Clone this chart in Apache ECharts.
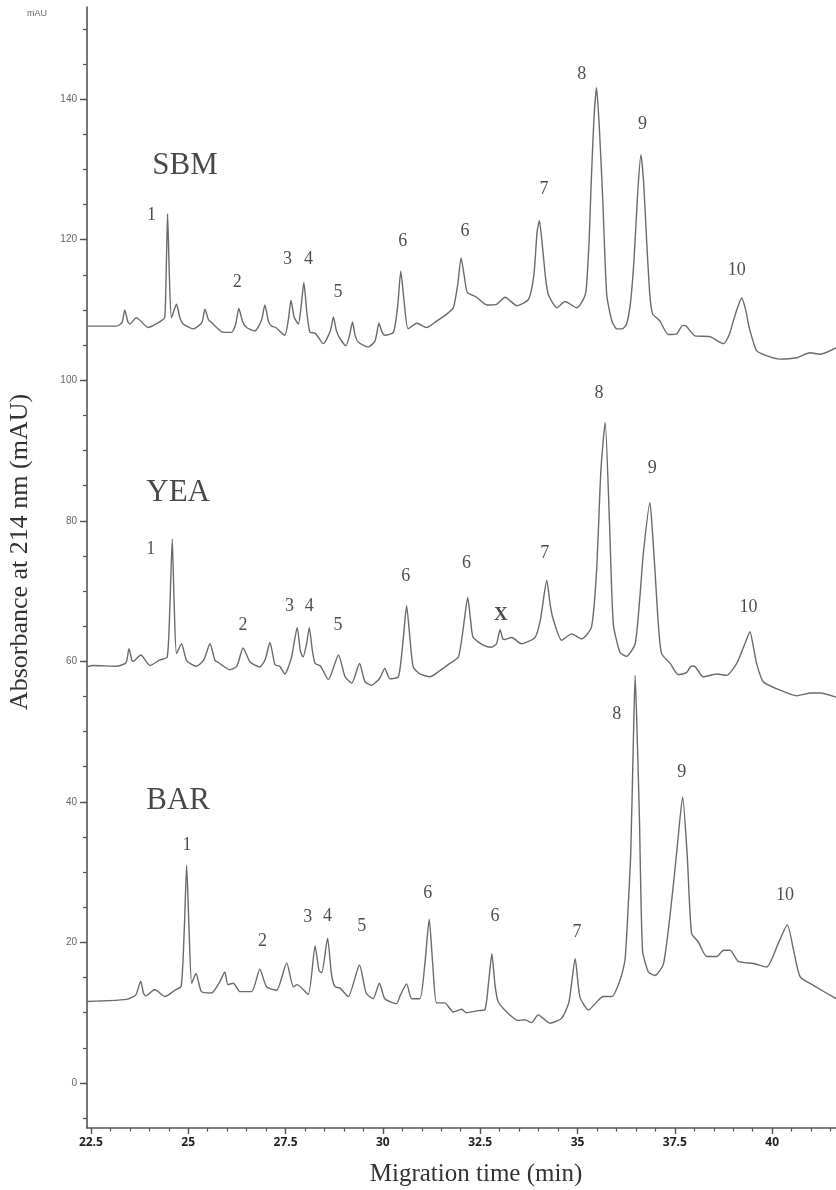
<!DOCTYPE html>
<html>
<head>
<meta charset="utf-8">
<script src="https://cdn.jsdelivr.net/npm/echarts@6/dist/echarts.min.js"></script>
<style>
html,body{margin:0;padding:0;background:#fff;}
#chart{width:836px;height:1190px;}
</style>
</head>
<body>
<div id="chart"></div>
<script>
// ---- data (migration time in min, absorbance in mAU) ----
const sbmTrace = [[22.39,107.7],[23.16,107.7],[23.30,108.2],[23.37,110.0],[23.45,108.3],[23.50,108.0],[23.67,108.9],[23.97,107.5],[24.32,108.5],[24.40,109.0],[24.44,117],[24.47,123.7],[24.51,116],[24.57,108.9],[24.70,110.8],[24.78,109],[24.87,108.0],[25.13,107.3],[25.35,108.2],[25.43,110.1],[25.52,108.6],[25.60,108.2],[25.90,106.8],[26.11,106.8],[26.22,108],[26.30,110.2],[26.40,108.3],[26.50,107.5],[26.71,107.0],[26.88,108.5],[26.97,110.7],[27.06,108.4],[27.14,107.7],[27.25,107.5],[27.48,106.4],[27.57,108.5],[27.64,111.4],[27.72,109],[27.83,108.0],[27.90,110.5],[27.97,113.9],[28.05,109.5],[28.13,106.8],[28.26,106.7],[28.47,105.2],[28.65,107],[28.73,109.0],[28.80,107.2],[28.88,106.1],[29.05,104.9],[29.15,106.5],[29.22,108.3],[29.29,106.3],[29.37,105.4],[29.62,104.7],[29.80,105.6],[29.90,108.1],[29.98,106.8],[30.05,106.4],[30.27,106.8],[30.38,110.5],[30.46,115.5],[30.55,111],[30.65,107.3],[30.87,108.1],[31.12,107.5],[31.38,108.4],[31.64,109.4],[31.81,110.3],[31.92,113.5],[32.01,117.4],[32.10,114.5],[32.17,112.5],[32.41,111.8],[32.67,110.7],[32.92,110.8],[33.14,111.8],[33.44,110.6],[33.74,111.5],[33.88,115],[33.96,121],[34.02,122.7],[34.10,119],[34.18,114.5],[34.25,112.2],[34.47,110.3],[34.68,111.2],[34.98,110.3],[35.15,111.5],[35.22,112.7],[35.30,120],[35.34,126.4],[35.42,137],[35.49,141.6],[35.56,136],[35.65,125.5],[35.75,112.2],[35.88,108.5],[36.01,107.3],[36.15,107.3],[36.26,108.0],[36.36,111],[36.45,117.0],[36.55,127],[36.63,132.1],[36.70,128],[36.78,119.4],[36.86,112],[36.93,109.4],[37.05,108.8],[37.12,108.4],[37.33,106.5],[37.55,106.6],[37.70,107.8],[37.79,107.7],[38.02,106.3],[38.40,106.2],[38.75,105.2],[38.90,106.5],[39.00,108.4],[39.12,110.5],[39.22,111.7],[39.32,110],[39.41,107.5],[39.60,104.2],[39.85,103.5],[40.20,103.0],[40.63,103.2],[40.97,103.9],[41.23,103.7],[41.64,104.6]];

const yeaTrace = [[22.39,59.2],[22.56,59.4],[23.16,59.3],[23.40,59.8],[23.48,61.8],[23.55,60.2],[23.59,60.0],[23.78,60.9],[24.02,59.4],[24.27,60.2],[24.46,60.6],[24.53,68],[24.59,77.4],[24.64,68],[24.70,61.1],[24.83,62.5],[24.96,60.1],[25.21,59.3],[25.40,60.2],[25.56,62.5],[25.69,60.1],[25.78,59.8],[26.07,58.8],[26.25,59.3],[26.41,61.9],[26.59,59.9],[26.84,59.2],[26.98,60.3],[27.10,62.7],[27.23,59.5],[27.35,59.3],[27.48,58.2],[27.65,60.5],[27.80,64.8],[27.88,61.5],[27.95,60.6],[28.04,62.5],[28.11,64.8],[28.19,61.5],[28.26,59.7],[28.40,59.3],[28.60,57.4],[28.86,60.9],[29.03,57.8],[29.20,56.9],[29.40,59.7],[29.54,57.1],[29.71,56.6],[29.92,57.6],[30.05,59.0],[30.18,57.5],[30.40,57.8],[30.52,63],[30.61,67.9],[30.70,63],[30.78,59.2],[30.95,58.2],[31.21,57.8],[31.47,58.7],[31.72,59.7],[31.94,60.6],[32.06,64.5],[32.18,69.1],[32.26,65.5],[32.32,63.4],[32.58,62.3],[32.79,62.0],[32.92,62.5],[33.01,64.5],[33.08,63.2],[33.14,63.1],[33.31,63.4],[33.56,62.5],[33.91,63.4],[34.05,66],[34.21,71.5],[34.30,68],[34.36,66.3],[34.59,63.0],[34.85,63.9],[35.11,63.2],[35.36,64.9],[35.49,72.9],[35.60,87.1],[35.71,94.0],[35.82,80.0],[35.92,65.3],[36.09,61.3],[36.26,60.7],[36.48,62.5],[36.60,69],[36.69,75.3],[36.86,82.6],[36.93,78],[36.99,72.9],[37.08,65],[37.16,61.1],[37.38,59.7],[37.59,58.1],[37.80,58.4],[37.92,59.3],[38.00,59.3],[38.23,57.8],[38.58,58.2],[38.83,58.0],[39.09,59.7],[39.30,62.5],[39.43,64.2],[39.52,62],[39.60,59.7],[39.77,57.1],[40.20,55.9],[40.63,55.1],[41.00,55.5],[41.23,55.5],[41.64,54.9]];

const barTrace = [[22.39,11.6],[22.86,11.7],[23.42,11.9],[23.65,12.5],[23.78,14.5],[23.85,12.8],[23.91,12.4],[24.14,13.3],[24.40,12.3],[24.66,13.2],[24.82,13.8],[24.90,22],[24.96,31.0],[25.02,22],[25.09,14.2],[25.20,15.6],[25.34,13.0],[25.60,12.8],[25.81,14.4],[25.94,15.8],[26.02,14.0],[26.16,14.2],[26.33,13.0],[26.63,13.0],[26.84,16.2],[27.01,13.7],[27.27,13.2],[27.53,17.1],[27.70,13.7],[27.80,14.0],[28.08,12.6],[28.26,19.5],[28.36,16],[28.43,15.7],[28.58,20.6],[28.68,15.5],[28.77,13.7],[28.90,13.5],[29.11,12.3],[29.40,16.8],[29.57,12.8],[29.75,12.0],[29.91,14.2],[30.05,12.0],[30.35,11.3],[30.45,12.5],[30.61,14.1],[30.74,12.0],[30.95,12.0],[31.08,17],[31.19,23.3],[31.28,17],[31.38,11.4],[31.59,11.4],[31.81,10.1],[32.02,10.5],[32.15,10.0],[32.45,10.3],[32.62,10.4],[32.72,14.5],[32.80,18.4],[32.88,14],[32.96,11.6],[33.22,9.9],[33.48,8.9],[33.65,9.0],[33.82,8.6],[33.99,9.7],[34.29,8.5],[34.59,9.2],[34.78,11.5],[34.94,17.7],[35.06,12.3],[35.28,10.4],[35.54,11.8],[35.66,12.3],[35.88,12.3],[36.09,14.6],[36.22,17.5],[36.31,26.0],[36.37,33.1],[36.44,50],[36.48,58.0],[36.53,50],[36.59,37.8],[36.67,18.9],[36.82,15.8],[36.99,15.3],[37.21,17.0],[37.42,26.0],[37.57,34.1],[37.70,40.7],[37.82,32.2],[37.93,21.3],[38.10,20.1],[38.32,18.0],[38.58,18.0],[38.75,18.9],[38.92,18.9],[39.13,17.3],[39.52,17.0],[39.86,16.5],[40.16,19.9],[40.39,22.5],[40.55,18.9],[40.72,15.1],[41.06,13.9],[41.64,12.0]];

const sampleNames = ['SBM', 'YEA', 'BAR'];
const sampleNamePos = [[24.92, 130.5], [24.74, 84.0], [24.74, 40.2]];

const peakLabels = [
  // SBM
  [24.06,123.4,'1'],[26.26,114.0,'2'],[27.55,117.2,'3'],[28.09,117.2,'4'],[28.85,112.5,'5'],
  [30.51,119.7,'6'],[32.11,121.2,'6'],[34.14,127.2,'7'],[35.11,143.5,'8'],[36.67,136.4,'9'],[39.09,115.6,'10'],
  // YEA
  [24.04,76.0,'1'],[26.41,65.2,'2'],[27.60,67.9,'3'],[28.11,67.9,'4'],[28.85,65.2,'5'],
  [30.59,72.1,'6'],[32.15,73.9,'6'],[34.16,75.4,'7'],[35.55,98.1,'8'],[36.92,87.4,'9'],[39.39,67.7,'10'],
  // BAR
  [24.97,33.8,'1'],[26.91,20.2,'2'],[28.07,23.6,'3'],[28.58,23.7,'4'],[29.46,22.3,'5'],
  [31.15,27.0,'6'],[32.88,23.7,'6'],[34.99,21.4,'7'],[36.01,52.5,'8'],[37.68,44.2,'9'],[40.33,26.7,'10']
];
const unknownLabel = [[33.03, 66.6, 'X']];

const xTickLabels = [22.5, 25, 27.5, 30, 32.5, 35, 37.5, 40];
const yTickLabels = [0, 20, 40, 60, 80, 100, 120, 140];

// ---- derived tick positions ----
const xMinor = []; for (let v = 22.5; v <= 41.6; v += 0.5) xMinor.push(+v.toFixed(1));
const yMinor = []; for (let v = -5; v <= 150; v += 5) yMinor.push(v);

const chart = echarts.init(document.getElementById('chart'), null, {renderer: 'canvas'});
const serif = '"Liberation Serif","DejaVu Serif",serif';
const lineColor = '#6a6a6a';

const traceSeries = [sbmTrace, yeaTrace, barTrace].map((d, i) => ({
  type: 'line', name: sampleNames[i], data: d, showSymbol: false, symbol: 'none',
  smooth: 0.2, lineStyle: {color: lineColor, width: 1.4}, silent: true, z: 3
}));

const textSeries = {
  type: 'scatter', symbolSize: 1, itemStyle: {color: 'rgba(0,0,0,0)'}, silent: true, z: 5,
  data: [].concat(
    sampleNamePos.map((p, i) => ({value: [p[0], p[1], sampleNames[i]],
      label: {fontSize: 31, fontFamily: serif, color: '#1a1a1a'}})),
    peakLabels.map(p => ({value: p, label: {fontSize: 18, fontFamily: serif, color: '#1e1e1e'}})),
    unknownLabel.map(p => ({value: p, label: {fontSize: 19, fontFamily: serif, fontWeight: 'bold', color: '#1e1e1e'}}))
  ),
  label: {show: true, position: 'inside', formatter: p => p.value[2]}
};

chart.setOption({
  animation: false,
  backgroundColor: '#fff',
  grid: {left: 87, right: 0, top: 7, bottom: 62, containLabel: false},
  xAxis: [{
    type: 'value', min: 22.4, max: 41.64, position: 'bottom',
    axisLine: {show: true, onZero: false, lineStyle: {color: '#555', width: 1.6}},
    axisTick: {show: true, customValues: xTickLabels, length: 6, lineStyle: {color: '#555', width: 1.4}},
    axisLabel: {show: true, customValues: xTickLabels, margin: 9, fontSize: 12, fontWeight: 'bold',
      fontFamily: '"Open Sans","Liberation Sans",sans-serif', color: '#222'},
    splitLine: {show: false}
  }, {
    type: 'value', min: 22.4, max: 41.64, position: 'bottom',
    axisLine: {show: false, onZero: false},
    axisTick: {show: true, customValues: xMinor, length: 3.5, lineStyle: {color: '#555', width: 1.2}},
    axisLabel: {show: false}, splitLine: {show: false}
  }],
  yAxis: [{
    type: 'value', min: -6.4, max: 153.1, position: 'left',
    axisLine: {show: true, onZero: false, lineStyle: {color: '#555', width: 1.6}},
    axisTick: {show: true, customValues: yTickLabels, length: 7, lineStyle: {color: '#555', width: 1.4}},
    axisLabel: {show: true, customValues: yTickLabels, margin: 10, fontSize: 10,
      fontFamily: '"Liberation Sans","Open Sans",sans-serif', color: '#666'},
    splitLine: {show: false}
  }, {
    type: 'value', min: -6.4, max: 153.1, position: 'left',
    axisLine: {show: false, onZero: false},
    axisTick: {show: true, customValues: yMinor, length: 4, lineStyle: {color: '#555', width: 1.2}},
    axisLabel: {show: false}, splitLine: {show: false}
  }],
  graphic: [
    {type: 'text', left: 27, top: 9, style: {text: 'mAU', fontSize: 9, fill: '#666',
      fontFamily: '"Liberation Sans",sans-serif'}},
    {type: 'text', x: 476, y: 1174, style: {text: 'Migration time (min)', fontSize: 25,
      fontFamily: serif, fill: '#333', align: 'center', verticalAlign: 'middle'}},
    {type: 'text', x: 20, y: 552, rotation: Math.PI / 2, style: {text: 'Absorbance at 214 nm (mAU)',
      fontSize: 26, fontFamily: serif, fill: '#333', align: 'center', verticalAlign: 'middle'}}
  ],
  series: traceSeries.concat([textSeries])
});
</script>
</body>
</html>
